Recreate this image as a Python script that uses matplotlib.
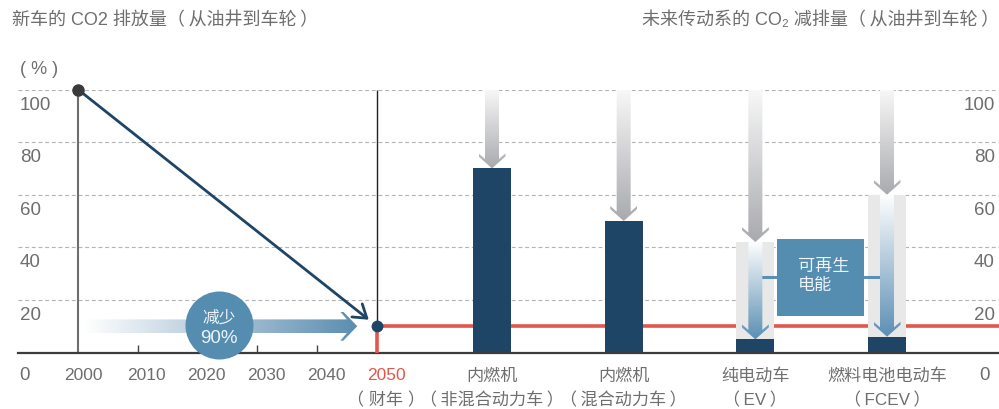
"""plot.py -- CO2 reduction of new vehicles (well-to-wheel) towards 2050."""

import numpy as np
import matplotlib
matplotlib.use("Agg")
import matplotlib.pyplot as plt
import matplotlib.transforms as mtransforms
from matplotlib.patches import Polygon, Rectangle
from matplotlib.colors import to_rgba

plt.rcParams["font.family"] = ["Liberation Sans", "Noto Sans CJK SC", "DejaVu Sans"]

# ---- data ----
YEARS = [2000, 2010, 2020, 2030, 2040, 2050]
PATH_YEARS = [2000, 2050]
PATH_VALUES = [100, 10]
TARGET = 10
Y_TICKS = [20, 40, 60, 80, 100]
START_VALUE = 100
CATEGORIES = ["内燃机", "内燃机", "纯电动车", "燃料电池电动车"]
SUBLABELS = ["（\u2009非混合动力车\u2009）", "（\u2009混合动力车\u2009）",
             "（\u2009EV\u2009）", "（\u2009FCEV\u2009）"]
BAR_VALUES = [70, 50, 5, 6]
RENEWABLE_FROM = [None, None, 42, 60]   # level where renewable electricity takes over

# ---- colours ----
TEXT = "#6e6e6e"
NAVY = "#1f4566"
STEEL = "#548db0"
RED = "#e2574c"
GRID = "#b3b3b3"
PANEL = "#e8e8e8"

# ---- layout (pixels of the 999x410 canvas) ----
PX_PER_YEAR = 5.98
AX_LEFT_PX, X2000_PX, CAT0_PX, CAT_STEP_PX = 18, 78, 492, 131.67
XMIN = 2000 - (X2000_PX - AX_LEFT_PX) / PX_PER_YEAR
XMAX = XMIN + (999 - AX_LEFT_PX) / PX_PER_YEAR
CAT_X0 = 2000 + (CAT0_PX - X2000_PX) / PX_PER_YEAR
CAT_STEP = CAT_STEP_PX / PX_PER_YEAR
BAR_W = 38 / CAT_STEP_PX


def gradient_arrow(ax, trans, tail, tip, c_tail, c_tip, shaft=7.0, head=13.5,
                   head_len=15.0, zorder=3.5):
    """Chevron-headed arrow filled with a linear gradient from tail to tip."""
    p0 = np.asarray(trans.transform(tail))
    p1 = np.asarray(trans.transform(tip))
    d = p1 - p0
    length = np.hypot(*d)
    u = d / length
    n = np.array([-u[1], u[0]])
    notch = head_len - (head - shaft) * 0.86
    local = [(-length, -shaft), (-notch, -shaft), (-head_len, -head),
             (-(head_len - 3), -head), (0, 0), (-(head_len - 3), head),
             (-head_len, head), (-notch, shaft), (-length, shaft)]
    pts = np.array([p1 + a * u + b * n for a, b in local])
    data = ax.transData.inverted().transform(pts)
    poly = Polygon(data, closed=True, facecolor="none", edgecolor="none",
                   transform=ax.transData, zorder=zorder)
    ax.add_patch(poly)

    t = np.linspace(0, 1, 256)
    c0, c1 = np.array(to_rgba(c_tail)), np.array(to_rgba(c_tip))
    cols = c0 + (c1 - c0) * t[:, None]
    tail_d = ax.transData.inverted().transform(p0)
    tip_d = ax.transData.inverted().transform(p1)
    xmin, ymin = data.min(axis=0)
    xmax, ymax = data.max(axis=0)
    if abs(u[1]) > abs(u[0]):
        img = cols[:, None, :]
        extent = (xmin, xmax, tail_d[1], tip_d[1])
    else:
        img = cols[None, :, :]
        extent = (tail_d[0], tip_d[0], ymin, ymax)
    im = ax.imshow(img, extent=extent, origin="lower", aspect="auto",
                   interpolation="bilinear", zorder=zorder)
    im.set_clip_path(poly)


fig = plt.figure(figsize=(9.99, 4.10), dpi=100)
ax = fig.add_axes([AX_LEFT_PX / 999, 56.5 / 410, (999 - AX_LEFT_PX) / 999, 263 / 410])
ax.set_xlim(XMIN, XMAX)
ax.set_ylim(0, 100)
ax.set_autoscale_on(False)

cat_trans = mtransforms.Affine2D().scale(CAT_STEP, 1).translate(CAT_X0, 0) + ax.transData

# axes styling
for side in ["top", "left", "right"]:
    ax.spines[side].set_visible(False)
ax.spines["bottom"].set_color("#3c3c3c")
ax.spines["bottom"].set_linewidth(1.6)
ax.spines["bottom"].set_zorder(4)
ax.set_yticks(Y_TICKS)
ax.set_xticks(YEARS[1:-1])
ax.tick_params(axis="y", left=False, labelleft=False)
ax.tick_params(axis="x", direction="in", length=6, width=1, color="#444444",
               labelbottom=False)
ax.set_axisbelow(True)
ax.yaxis.grid(True, linestyle=(0, (3.5, 2.5)), color=GRID, linewidth=0.8)

# y tick labels on both sides, sitting just below their grid line
ytr = ax.get_yaxis_transform()
for v in Y_TICKS:
    ax.annotate(str(v), xy=(0, v), xycoords=ytr, xytext=(2, -14.5),
                textcoords="offset pixels", ha="left", va="center",
                fontsize=13.5, color=TEXT)
    ax.annotate(str(v), xy=(1, v), xycoords=ytr, xytext=(-4, -14.5),
                textcoords="offset pixels", ha="right", va="center",
                fontsize=13.5, color=TEXT)
ax.annotate("0", xy=(0, 0), xycoords="axes fraction", xytext=(6, -22.5),
            textcoords="offset pixels", ha="center", va="center",
            fontsize=13.5, color=TEXT)
ax.annotate("0", xy=(1, 0), xycoords="axes fraction", xytext=(-14, -22.5),
            textcoords="offset pixels", ha="center", va="center",
            fontsize=13.5, color=TEXT)

# year labels
for y in YEARS:
    dx = 5 if y == YEARS[0] else 9
    ax.annotate(str(y), xy=(y, 0), xytext=(dx, -22.5), textcoords="offset pixels",
                ha="center", va="center", fontsize=12.5,
                color=RED if y == YEARS[-1] else TEXT)
ax.annotate("（ 财年 ）", xy=(YEARS[-1], 0), xytext=(9, -46.5),
            textcoords="offset pixels", ha="center", va="center",
            fontsize=12.3, color=TEXT)

# left part: emission path
ax.vlines(PATH_YEARS[0], 0, PATH_VALUES[0], color="#6e6e6e", lw=1.5, zorder=4)
ax.vlines(PATH_YEARS[1], PATH_VALUES[1], START_VALUE, color="#222222", lw=1.0, zorder=4)
ax.vlines(PATH_YEARS[1], 0, TARGET, color=RED, lw=2.6, zorder=4.3)
ax.hlines(TARGET, PATH_YEARS[1], XMAX, color=RED, lw=2.6, zorder=2)
ax.annotate("", xy=(PATH_YEARS[1], PATH_VALUES[1]),
            xytext=(PATH_YEARS[0], PATH_VALUES[0]),
            arrowprops=dict(arrowstyle="->,head_length=0.45,head_width=0.3",
                            color=NAVY, lw=2, shrinkA=0, shrinkB=7.5,
                            mutation_scale=20),
            zorder=5, annotation_clip=False)
ax.plot(PATH_YEARS[0], PATH_VALUES[0], "o", ms=8, color="#3a3a3a", zorder=6,
        clip_on=False)
ax.plot(PATH_YEARS[1], PATH_VALUES[1], "o", ms=7.5, color=NAVY, zorder=6,
        clip_on=False)

# "reduce 90%" arrow and badge
gradient_arrow(ax, ax.transData, (2001, TARGET), (2046.7, TARGET), "#ffffff", "#5b8db0",
               shaft=6.8, head=14.5, head_len=17, zorder=4.5)
ax.scatter([2023.6], [10.5], s=(68 * 0.72) ** 2, color=STEEL, linewidths=0, zorder=5,
           clip_on=False)
ax.annotate("减少", xy=(2023.6, 10.5), xytext=(0, 8), textcoords="offset pixels",
            ha="center", va="center", fontsize=12, color="#eef3f7", zorder=6)
ax.annotate("90%", xy=(2023.6, 10.5), xytext=(0, -13), textcoords="offset pixels",
            ha="center", va="center", fontsize=13.5, color="#eef3f7", zorder=6)

# right part: powertrains
idx = np.arange(len(CATEGORIES))
panel_idx = [i for i in idx if RENEWABLE_FROM[i] is not None]
ax.bar(panel_idx, [RENEWABLE_FROM[i] for i in panel_idx], width=BAR_W,
       color=PANEL, transform=cat_trans, zorder=2.5)
ax.bar(idx, BAR_VALUES, width=BAR_W, color=NAVY, transform=cat_trans, zorder=3)

for i in idx:
    stop = RENEWABLE_FROM[i] if RENEWABLE_FROM[i] is not None else BAR_VALUES[i]
    gradient_arrow(ax, cat_trans, (i, START_VALUE), (i, stop), "#f8f8f8", "#a9aaae")
    if RENEWABLE_FROM[i] is not None:
        gradient_arrow(ax, cat_trans, (i, RENEWABLE_FROM[i]), (i, BAR_VALUES[i]),
                       "#ffffff", "#5b8fb4")
    ax.annotate(CATEGORIES[i], xy=(i, 0), xycoords=cat_trans, xytext=(0, -22.5),
                textcoords="offset pixels", ha="center", va="center",
                fontsize=12.3, color=TEXT)
    ax.annotate(SUBLABELS[i], xy=(i, 0), xycoords=cat_trans, xytext=(0, -46.5),
                textcoords="offset pixels", ha="center", va="center",
                fontsize=12.3, color=TEXT)

# renewable electricity box linking EV and FCEV
ax.plot([panel_idx[0], panel_idx[1]], [28.7, 28.7], color="#5b8fb4", lw=2.2,
        transform=cat_trans, zorder=3)
ax.add_patch(Rectangle((2.165, 14), 0.66, 29, facecolor=STEEL, edgecolor="none",
                       transform=cat_trans, zorder=3.6))
ax.annotate("可再生\n电能", xy=(2.165, 43), xycoords=cat_trans, xytext=(21, -35.5),
            textcoords="offset pixels", ha="left", va="center", fontsize=12.3,
            linespacing=1.3, color="#eef3f7", zorder=4)

# titles
fig.text(12 / 999, 0.95, "新车的 CO2 排放量（\u2009从油井到车轮\u2009）", ha="left",
         va="center", fontsize=13, color=TEXT)
fig.text(1.0, 0.95, "未来传动系的 CO₂ 减排量（\u2009从油井到车轮\u2009）", ha="right",
         va="center", fontsize=13, color=TEXT)
fig.text(20 / 999, (410 - 69) / 410, "( % )", ha="left", va="center",
         fontsize=13, color=TEXT)

fig.savefig("out.png", dpi=100)
